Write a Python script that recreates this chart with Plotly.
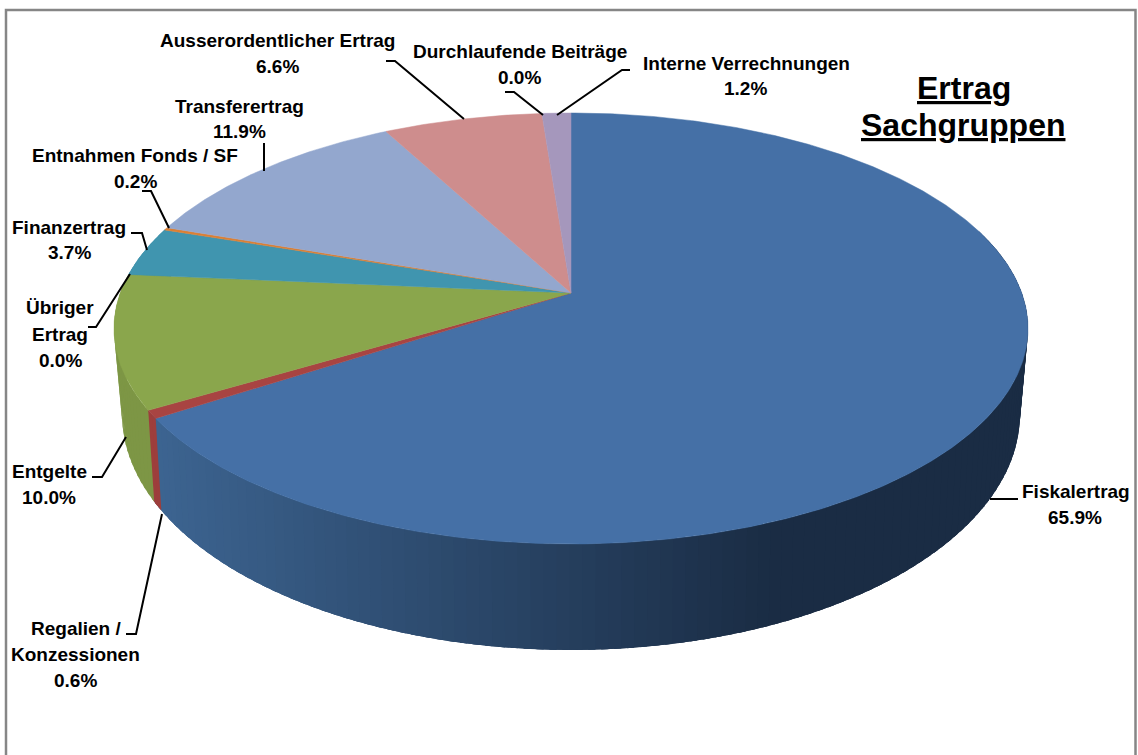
import numpy as np
import plotly.graph_objects as go

# ---- data (clockwise from 12 o'clock) ----
categories = ["Fiskalertrag", "Regalien / Konzessionen", "Entgelte", "Übriger Ertrag",
              "Finanzertrag", "Entnahmen Fonds / SF", "Transferertrag",
              "Ausserordentlicher Ertrag", "Durchlaufende Beiträge", "Interne Verrechnungen"]
values = [65.9, 0.6, 10.0, 0.0, 3.7, 0.2, 11.9, 6.6, 0.0, 1.2]
top_colors = ["#4570A6", "#A84442", "#8AA64C", "#6F5A94", "#4095AF", "#DC7F33",
              "#93A7CE", "#CE8D8D", "#B5C68F", "#A597BC"]
side_light = ["#3D6592", "#9E3E3C", "#7D9645", "#6F5A94", "#3A8AA1", "#C8742E",
              "#8597BC", "#BC8080", "#A5B583", "#9689AC"]
side_dark = ["#1A2C44", "#5E2524", "#4A5929", "#42355A", "#225261", "#77451B",
             "#4F5A70", "#704C4C", "#62694E", "#595166"]

# ---- perspective pie geometry (pixels) ----
CX, TOP_CY, TOP_RX, TOP_RY, TOP_K = 571.0, 328.5, 457.0, 215.5, 0.165
BOT_CY, BOT_RX, BOT_RY, BOT_K = 414.0, 449.0, 236.0, 0.174
W, H = 1138, 755


def rim(frac, cy, rx, ry, k):
    th = 2 * np.pi * np.asarray(frac)
    u, v = np.sin(th), np.cos(th)
    d = 1 + k * v
    a = rx * np.sqrt(1 - k * k)
    return CX + a * u / d, cy - ry * (v + k) / d


def mix(c1, c2, t):
    a = [int(c1[i:i + 2], 16) for i in (1, 3, 5)]
    b = [int(c2[i:i + 2], 16) for i in (1, 3, 5)]
    return "rgb({},{},{})".format(*[round(p + (q - p) * t) for p, q in zip(a, b)])


cum = np.concatenate([[0], np.cumsum(values)]) / np.sum(values)
fig = go.Figure()

# side wall: painted from the right edge round to the left, every strip reaching
# under the one painted next, so the colour bands leave no seams
LO, HI = 0.20, 0.80
bands = []
for i in range(len(values)):
    lo, hi = max(cum[i], LO), min(cum[i + 1], HI)
    if hi <= lo:
        continue
    n = max(2, int((hi - lo) * 260))
    edges = np.linspace(lo, hi, n + 1)
    bands += [(i, a, b) for a, b in zip(edges[:-1], edges[1:])]
for i, a, b in bands:
    ff = np.linspace(a, min(b + 0.006, HI) if i == 0 else b + 0.002, 6)
    xt, yt = rim(ff, TOP_CY, TOP_RX, TOP_RY, TOP_K)
    xb, yb = rim(ff, BOT_CY, BOT_RX, BOT_RY, BOT_K)
    mid_x = rim((a + b) / 2, BOT_CY, BOT_RX, BOT_RY, BOT_K)[0]
    col = mix(side_light[i], side_dark[i], float(np.clip((mid_x - 150) / 620, 0, 1)))
    fig.add_trace(go.Scatter(x=list(xt) + list(xb[::-1]), y=list(yt) + list(yb[::-1]),
                             mode="lines", fill="toself", fillcolor=col,
                             line=dict(width=0), hoverinfo="skip", showlegend=False))

# top face
apex_y = TOP_CY - TOP_RY * TOP_K
for i, name in enumerate(categories):
    f0, f1 = cum[i], cum[i + 1]
    if f1 <= f0:
        continue
    ff = np.linspace(f0, f1, max(3, int((f1 - f0) * 720)))
    x, y = rim(ff, TOP_CY, TOP_RX, TOP_RY, TOP_K)
    fig.add_trace(go.Scatter(x=[CX] + list(x) + [CX], y=[apex_y] + list(y) + [apex_y],
                             mode="lines", fill="toself", fillcolor=top_colors[i],
                             line=dict(color=top_colors[i], width=0.5), name=name,
                             hoverinfo="name", showlegend=False))

# ---- leader lines ----
leaders = [
    [(386, 61), (395, 61), (464, 119)],
    [(505, 92), (514, 92), (543, 115)],
    [(630, 70), (622, 70), (557, 115)],
    [(264, 143), (264, 171)],
    [(142, 191), (151, 191), (169, 228)],
    [(131, 233), (142, 233), (147, 250)],
    [(88, 327), (96, 327), (130, 274)],
    [(92, 477), (102, 477), (126, 437)],
    [(126, 634), (136, 634), (162, 514)],
    [(1018, 499), (990, 499)],
]
for pts in leaders:
    fig.add_trace(go.Scatter(x=[p[0] for p in pts], y=[p[1] for p in pts], mode="lines",
                             line=dict(color="black", width=2), hoverinfo="skip",
                             showlegend=False))

# ---- labels ----
label_lines = [
    ("Ausserordentlicher Ertrag", 277, 40), ("6.6%", 277, 66),
    ("Durchlaufende Beiträge", 520, 51), ("0.0%", 519, 77),
    ("Interne Verrechnungen", 746, 63), ("1.2%", 745, 88),
    ("Transferertrag", 239, 106), ("11.9%", 239, 131),
    ("Entnahmen Fonds / SF", 135, 155), ("0.2%", 135, 181),
    ("Finanzertrag", 69, 227), ("3.7%", 69, 252),
    ("Übriger", 60, 307), ("Ertrag", 60, 334), ("0.0%", 60, 360),
    ("Entgelte", 49, 471), ("10.0%", 49, 497),
    ("Regalien /", 76, 628), ("Konzessionen", 75, 654), ("0.6%", 75, 680),
    ("Fiskalertrag", 1076, 491), ("65.9%", 1075, 517),
]
FONT = "Liberation Sans"
for txt, x, y in label_lines:
    fig.add_annotation(x=x, y=y, text=f"<b>{txt}</b>", showarrow=False, xanchor="center",
                       yanchor="middle", font=dict(family=FONT, size=19, color="black"))
for txt, x, y in (("Ertrag", 964, 88), ("Sachgruppen", 963, 125)):
    fig.add_annotation(x=x, y=y, text=f"<b><u>{txt}</u></b>", showarrow=False,
                       xanchor="center", yanchor="middle",
                       font=dict(family=FONT, size=32, color="black"))

fig.add_shape(type="rect", x0=6, y0=10, x1=1135.5, y1=780, xref="x", yref="y",
              line=dict(color="#868686", width=2.5), layer="below")

fig.update_layout(
    width=W, height=H, autosize=False, margin=dict(l=0, r=0, t=0, b=0),
    paper_bgcolor="white", plot_bgcolor="white", showlegend=False,
    xaxis=dict(range=[0, W], visible=False, fixedrange=True),
    yaxis=dict(range=[H, 0], visible=False, fixedrange=True),
)
fig.write_html("out.html", config=dict(displayModeBar=False),
               post_script="document.body.style.margin='0';document.body.style.overflow='hidden';")
